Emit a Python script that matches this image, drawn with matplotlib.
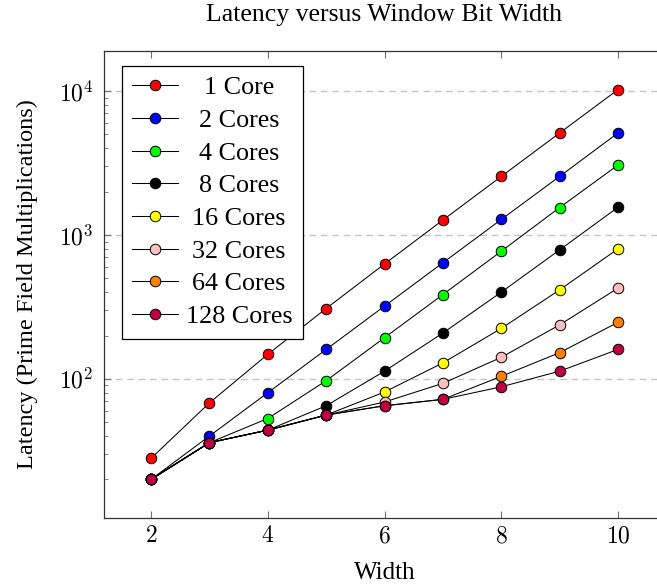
import matplotlib
matplotlib.use("Agg")
import matplotlib.pyplot as plt
from matplotlib.ticker import FixedLocator, LogLocator, FuncFormatter, NullFormatter
import math

plt.rcParams['font.family'] = ['Liberation Serif', 'DejaVu Serif']
plt.rcParams['mathtext.fontset'] = 'cm'

widths = [2, 3, 4, 5, 6, 7, 8, 9, 10]

# latency per core count (prime field multiplications)
core_labels = ['1 Core', '2 Cores', '4 Cores', '8 Cores',
               '16 Cores', '32 Cores', '64 Cores', '128 Cores']
lat_1 = [28, 68, 148, 308, 628, 1268, 2548, 5108, 10228]
lat_2 = [20, 40, 80, 160, 320, 640, 1280, 2550, 5110]
lat_4 = [20, 36, 53, 97, 193, 385, 770, 1549, 3060]
lat_8 = [20, 36, 44, 65, 113, 208, 400, 787, 1556]
lat_16 = [20, 36, 44, 56, 81, 129, 224, 415, 800]
lat_32 = [20, 36, 44, 56, 69, 93, 141, 237, 427]
lat_64 = [20, 36, 44, 56, 65, 72, 104, 152, 247]
lat_128 = [20, 36, 44, 56, 65, 72, 88, 113, 160]
series = [lat_1, lat_2, lat_4, lat_8, lat_16, lat_32, lat_64, lat_128]

colors = ['#ff0000', '#0000ff', '#00ff00', '#000000',
          '#ffff00', '#ffbfbf', '#ff8000', '#bf0040']

fig = plt.figure(figsize=(6.57, 5.88), dpi=100)
# axes run a little past the right edge, like the cropped original
ax = fig.add_axes([104.3 / 657, 1 - 517.7 / 588, 560.4 / 657, 466.7 / 588])

for vals, c, lab in zip(series, colors, core_labels):
    ax.plot(widths, vals, color='black', linewidth=0.75, marker='o',
            markersize=7.6, markerfacecolor=c, markeredgecolor='black',
            markeredgewidth=0.7, label=lab, zorder=3)

ax.set_yscale('log')
ax.set_xlim(1.2, 10.8)
ax.set_ylim(10 ** 1.035, 10 ** 4.278)

ax.xaxis.set_major_locator(FixedLocator([2, 4, 6, 8, 10]))
ax.xaxis.set_major_formatter(FuncFormatter(lambda v, p: '$%d$' % v))
ax.yaxis.set_major_locator(LogLocator(base=10, numticks=10))
ax.yaxis.set_minor_locator(LogLocator(base=10, subs=range(2, 10), numticks=20))
ax.yaxis.set_major_formatter(FuncFormatter(lambda v, p: '$10^{%d}$' % round(math.log10(v))))
ax.yaxis.set_minor_formatter(NullFormatter())

ax.tick_params(axis='both', which='both', direction='in', top=True, right=True,
               color='#707070', labelsize=17)
ax.tick_params(axis='both', which='major', length=5, width=0.8, pad=6)
ax.tick_params(axis='both', which='minor', length=3, width=0.6)
ax.tick_params(axis='y', which='major', pad=8)

ax.grid(True, axis='y', which='major', color='#c4c4c4', linewidth=1.0,
        linestyle=(0, (4.8, 3.4)), zorder=0)

for s in ax.spines.values():
    s.set_color('#333333')
    s.set_linewidth(0.9)

ax.set_xlabel('Width', fontsize=18, labelpad=11)
ax.set_ylabel('Latency (Prime Field Multiplications)', fontsize=17.5, labelpad=15)
fig.text((104.3 + 664.7) / 2 / 657, 1 - 21 / 588, 'Latency versus Window Bit Width',
         fontsize=18.5, ha='center', va='baseline')

leg = ax.legend(loc='upper left', bbox_to_anchor=(17.4 / 560.4, 1 - 14.7 / 466.7),
                borderaxespad=0, fontsize=18.8, fancybox=False, framealpha=1,
                edgecolor='black', handlelength=1.75, handletextpad=0.3,
                labelspacing=0.36, borderpad=0.4)
leg.get_frame().set_linewidth(0.9)

# centre the legend entries on their widest label
fig.canvas.draw()
renderer = fig.canvas.get_renderer()
texts = leg.get_texts()
text_w = [t.get_window_extent(renderer).width for t in texts]
maxw = max(text_w)
for t, w in zip(texts, text_w):
    t.set_x((maxw - w) / 2)

fig.savefig('out.png', dpi=100)
